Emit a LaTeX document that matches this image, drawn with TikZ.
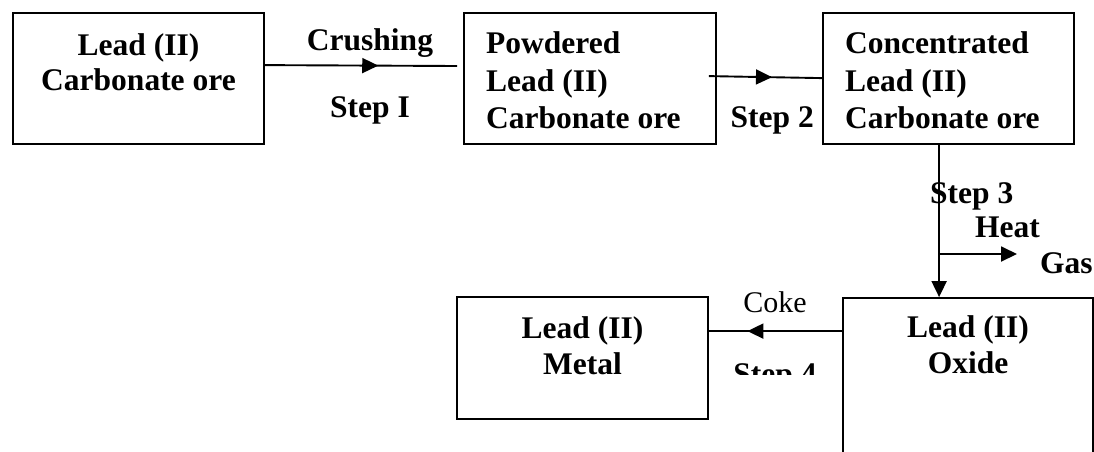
\documentclass[tikz,border=0pt]{standalone}
\usepackage{fontspec}
\setmainfont{Liberation Serif}
\usetikzlibrary{arrows.meta,decorations.markings,calc}
\tikzset{
  box/.style={draw=black, line width=1.8pt, rectangle, inner sep=0pt},
  txt/.style={inner sep=0pt, anchor=base, font=\fontsize{31.5}{37.5}\selectfont\bfseries},
  txtl/.style={txt, anchor=base west},
  lighttxt/.style={inner sep=0pt, anchor=base, font=\fontsize{30}{36}\selectfont},
  conn/.style={draw=black, line width=1.9pt},
  midarrow/.style={postaction={decorate}, decoration={markings, mark=at position #1 with {\arrow{>}}}}
}
\begin{document}
\begin{tikzpicture}[x=1pt,y=-1pt,>={Triangle[length=16pt,width=15pt]}]
\clip (0,0) rectangle (1094,451);
\fill[white] (0,0) rectangle (1094,451);
% boxes
\node[box, minimum width=251pt, minimum height=131pt] (b1) at (138.5,78.5) {};
\node[box, minimum width=252pt, minimum height=131pt] (b2) at (590,78.5) {};
\node[box, minimum width=251pt, minimum height=131pt] (b3) at (948.5,78.5) {};
\node[box, minimum width=250pt, minimum height=200pt] (b4) at (968,398) {};
\node[box, minimum width=251pt, minimum height=122pt] (b5) at (582.5,358) {};
% box texts
\node[txt] (t1a) at (138.5,55) {Lead (II)};
\node[txt] (t1b) at (138.5,90) {Carbonate ore};
\node[txtl] (t2a) at (486,53) {Powdered};
\node[txtl] (t2b) at (486,91) {Lead (II)};
\node[txtl] (t2c) at (486,128) {Carbonate ore};
\node[txtl] (t3a) at (845,53) {Concentrated};
\node[txtl] (t3b) at (845,91) {Lead (II)};
\node[txtl] (t3c) at (845,128) {Carbonate ore};
\node[txt] (t4a) at (968,337) {Lead (II)};
\node[txt] (t4b) at (968,373) {Oxide};
\node[txt] (t5a) at (582.5,338) {Lead (II)};
\node[txt] (t5b) at (582.5,374) {Metal};
% connector ends
\coordinate (c1) at (457,66);
\coordinate (branch) at (940,254);
\coordinate (gasend) at (1017,254);
% connectors
\draw[conn, midarrow=0.59] (b1.north east) ++(0,53) -- (c1);
\draw[conn, midarrow=0.557] (b2.north east) ++(-8,64) -- ($(b3.north west)+(0,66)$);
\draw[conn, ->] (b3.south west) ++(117,0) -- ($(b4.north west)+(97,0)$);
\draw[conn, ->] (branch) -- (gasend);
\draw[conn, midarrow=0.711] (b4.north west) ++(0,34) -- ($(b5.north east)+(0,35)$);
% labels
\node[txt] (crush) at (370,50) {Crushing};
\node[txt] (s1) at (370,117) {Step I};
\node[txt, anchor=base east] (s2) at (814,127) {Step 2};
\node[txtl] (s3) at (930,203) {Step 3};
\node[txtl] (heat) at (975,237) {Heat};
\node[txtl] (gas) at (1040,273) {Gas};
\node[lighttxt] (coke) at (775,312) {Coke};
\begin{scope}
\clip (700,340) rectangle (840,374);
\node[txt] (s4) at (775,384) {Step 4};
\end{scope}
\end{tikzpicture}
\end{document}
